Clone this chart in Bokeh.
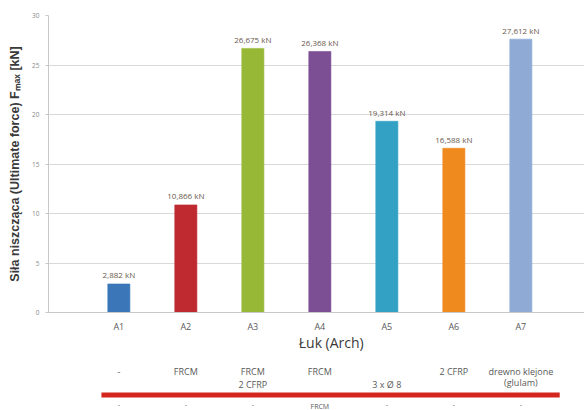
from bokeh.plotting import figure
from bokeh.models import ColumnDataSource, Range1d, FixedTicker
from bokeh.layouts import column
from bokeh.core.properties import value
from bokeh.embed import file_html
from bokeh.resources import INLINE

# Arch specimens and their ultimate force [kN]
arches = ["A1", "A2", "A3", "A4", "A5", "A6", "A7"]
fmax = [2.882, 10.866, 26.675, 26.368, 19.314, 16.588, 27.612]
colors = ["#3b77b8", "#bf2a30", "#97b837", "#7c4e94", "#33a1c4", "#ee8a1e", "#8eaad5"]

# Strengthening description for each arch (upper line, lower line)
strengthening_top = ["-", "FRCM", "FRCM", "FRCM", "", "2 CFRP", "drewno klejone"]
strengthening_bottom = ["", "", "2 CFRP", "", "3 x \u00d8 8", "", "(glulam)"]
strengthening_next = ["-", "-", "-", "FRCM", "-", "-", "-"]

y_ticks = [0, 5, 10, 15, 20, 25, 30]

SMALL_FONT = "Open Sans"
TEXT_GREY = "#595959"

xs = list(range(1, len(arches) + 1))
x_range = Range1d(-0.05, 7.95)

src = ColumnDataSource(dict(
    x=xs,
    top=fmax,
    color=colors,
    label=[f"{v:.3f}".replace(".", ",") + " kN" for v in fmax],
))

# Main bar chart
TOP_BORDER, FRAME_H, BOTTOM_BORDER = 15, 297, 8
p = figure(frame_width=536, frame_height=FRAME_H, x_range=x_range, y_range=Range1d(0, 30),
           output_backend="svg", toolbar_location=None,
           min_border_left=48, min_border_right=0, min_border_top=TOP_BORDER,
           min_border_bottom=BOTTOM_BORDER)
p.outline_line_color = None
p.background_fill_color = "white"
p.border_fill_color = "white"

p.vbar(x="x", top="top", width=0.33, bottom=0, fill_color="color",
       line_color="color", line_alpha=0.6, source=src)
p.text(x="x", y="top", text="label", source=src, text_align="center",
       text_baseline="middle", y_offset=-9, text_font=value(SMALL_FONT),
       text_font_size="8px", text_color="#6a5a4c")

p.xgrid.visible = False
p.ygrid.grid_line_color = "#d9d9d9"
p.ygrid.ticker = FixedTicker(ticks=y_ticks)

ya = p.yaxis[0]
ya.ticker = FixedTicker(ticks=y_ticks)
ya.axis_line_color = "#c8c8c8"
ya.major_tick_line_color = "#c8c8c8"
ya.major_tick_out = 3
ya.major_tick_in = 0
ya.minor_tick_line_color = None
ya.minor_tick_out = 0
ya.major_label_text_font = SMALL_FONT
ya.major_label_text_font_size = "6.5px"
ya.major_label_text_color = "#8a8a8a"
ya.major_label_standoff = 6
ya.axis_label = "Siła niszcząca (Ultimate force) F\u2098\u2090\u2093 [kN]"
ya.axis_label_text_font = "Liberation Sans"
ya.axis_label_text_font_style = "bold"
ya.axis_label_text_font_size = "12.5px"
ya.axis_label_text_color = "#3a3a3a"
ya.axis_label_standoff = 7

# Bottom axis keeps only its baseline; category names are set in the strip below
xa = p.xaxis[0]
xa.ticker = FixedTicker(ticks=[])
xa.axis_line_color = "#c8c8c8"
xa.major_tick_line_color = None
xa.major_tick_out = 0
xa.major_tick_in = 0
xa.minor_tick_line_color = None
xa.minor_tick_out = 0
xa.major_label_standoff = 0

# Strip below the chart: category names, axis title and strengthening descriptions
strip_h = 410 - (TOP_BORDER + FRAME_H + BOTTOM_BORDER)
q = figure(width=584, height=strip_h, x_range=x_range, y_range=Range1d(strip_h, 0),
           output_backend="svg", toolbar_location=None,
           min_border_left=48, min_border_right=0, min_border_top=0,
           min_border_bottom=0)
q.axis.visible = False
q.grid.visible = False
q.outline_line_color = None

q.text(x=xs, y=[5.5] * len(xs), text=arches, text_align="center",
       text_baseline="middle", text_font=value(SMALL_FONT), text_font_size="9px",
       text_color=TEXT_GREY)
q.text(x=[4.17], y=[22], text=["Łuk (Arch)"], text_align="center",
       text_baseline="middle", text_font=value(SMALL_FONT), text_font_size="14px",
       text_color="#3a3a3a")
q.text(x=xs, y=[51] * len(xs), text=strengthening_top, text_align="center",
       text_baseline="middle", text_font=value(SMALL_FONT), text_font_size="9px",
       text_color=TEXT_GREY)
bottom_y = [64, 64, 64, 64, 64, 64, 61.5]
q.text(x=xs, y=bottom_y, text=strengthening_bottom, text_align="center",
       text_baseline="middle", text_font=value(SMALL_FONT), text_font_size="9px",
       text_color=TEXT_GREY)
q.segment(x0=[0.74], y0=[74.5], x1=[7.58], y1=[74.5], line_color="#d3261f",
          line_width=5)
q.text(x=xs, y=[81] * len(xs), text=strengthening_next, text_align="center",
       text_baseline="top", text_font=value(SMALL_FONT), text_font_size="7px",
       text_color=TEXT_GREY)

layout = column(p, q, spacing=0)
open("out.html", "w").write(file_html(layout, INLINE))
